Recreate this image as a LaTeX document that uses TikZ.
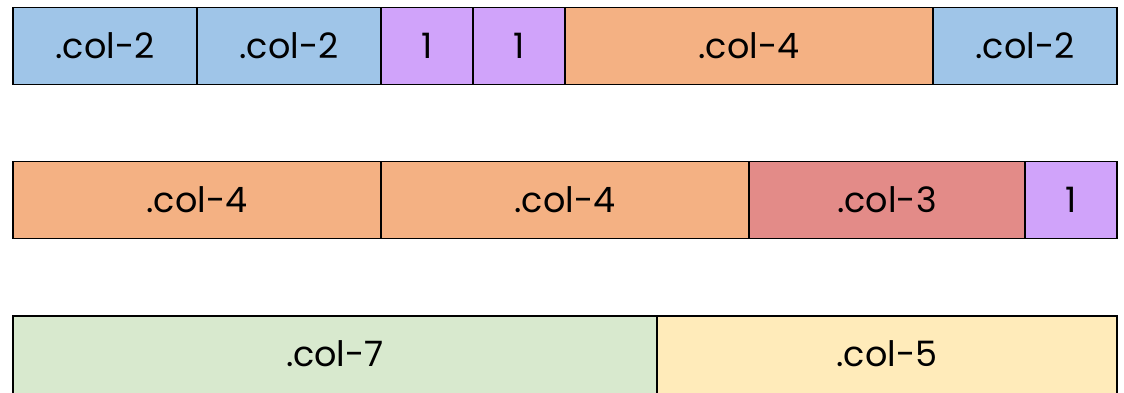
\documentclass[tikz,border=0pt]{standalone}
\usepackage{fontspec}
\setmainfont{Poppins}
\definecolor{cblue}{HTML}{9FC5E8}
\definecolor{cpurple}{HTML}{D0A3FA}
\definecolor{corange}{HTML}{F4B183}
\definecolor{cred}{HTML}{E38B88}
\definecolor{cgreen}{HTML}{D8E9CE}
\definecolor{cyellow}{HTML}{FFEBBA}
\begin{document}
\begin{tikzpicture}[x=1pt,y=-1pt,
  cell/.style={draw=black, line width=1.6pt, inner sep=0pt, outer sep=0pt, minimum height=77pt, anchor=north west, font=\fontsize{35}{40}\selectfont},
  tall/.style={minimum height=84pt, text depth=7pt}]
\useasboundingbox[fill=white] (0,0) rectangle (1124,392);
\clip (0,0) rectangle (1124,392);
% row 1
\node[cell, fill=cblue, minimum width=184pt] (a1) at (13,7.5) {.col-2};
\node[cell, fill=cblue, minimum width=184pt] (a2) at (a1.north east) {.col-2};
\node[cell, fill=cpurple, minimum width=92pt] (a3) at (a2.north east) {1};
\node[cell, fill=cpurple, minimum width=92pt] (a4) at (a3.north east) {1};
\node[cell, fill=corange, minimum width=368pt] (a5) at (a4.north east) {.col-4};
\node[cell, fill=cblue, minimum width=184pt] (a6) at (a5.north east) {.col-2};
% row 2
\node[cell, fill=corange, minimum width=368pt] (b1) at (13,161.5) {.col-4};
\node[cell, fill=corange, minimum width=368pt] (b2) at (b1.north east) {.col-4};
\node[cell, fill=cred, minimum width=276pt] (b3) at (b2.north east) {.col-3};
\node[cell, fill=cpurple, minimum width=92pt] (b4) at (b3.north east) {1};
% row 3 (bottom edge runs off the picture)
\node[cell, fill=cgreen, minimum width=644pt, minimum height=90pt, text depth=14pt] (c1) at (13,316) {.col-7};
\node[cell, fill=cyellow, minimum width=460pt, minimum height=90pt, text depth=14pt] (c2) at (c1.north east) {.col-5};
\end{tikzpicture}
\end{document}
